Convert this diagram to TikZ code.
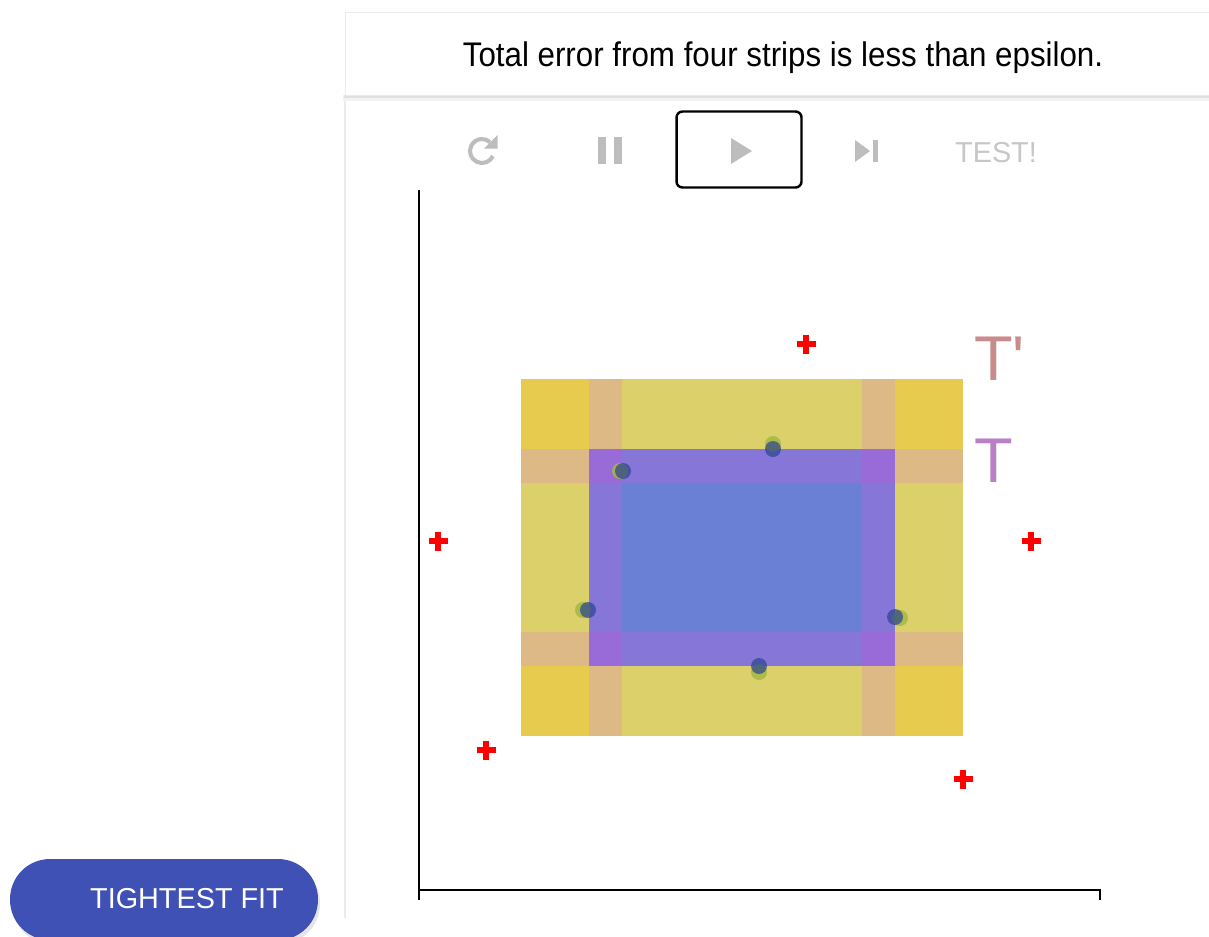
\documentclass[tikz,border=0pt]{standalone}
\usepackage{fontspec}
\setmainfont{Liberation Sans}
\newfontfamily\labelfont[Ligatures=TeXOff]{Liberation Sans}
\usetikzlibrary{
    arrows.meta,
    positioning
}
\definecolor{cornerYellow}{HTML}{E6CB4F}
\definecolor{bandYellow}{HTML}{DBD06A}
\definecolor{stripTan}{HTML}{DDB985}
\definecolor{innerPurple}{HTML}{8576D8}
\definecolor{coreBlue}{HTML}{6A80D4}
\definecolor{stripPurple}{HTML}{996BD8}
\definecolor{labelRose}{HTML}{C98C8C}
\definecolor{labelMauve}{HTML}{BA80C6}
\definecolor{iconGray}{HTML}{BDBDBD}
\definecolor{btnBlue}{HTML}{3F51B5}
\definecolor{dotNavy}{HTML}{2B4390}
\definecolor{dotGreen}{HTML}{A4B845}

\begin{document}
\begin{tikzpicture}[
  x=0.02cm, y=-0.02cm,
  icon/.style={fill=iconGray, draw=none},
  miss/.style={draw=red, line width=3.4pt},
  axis/.style={draw=black, line width=0.9pt},
  lbl/.style={anchor=base west, font=\labelfont\fontsize{36}{40}\selectfont}
]
\useasboundingbox (0,0) rectangle (1209,936);
\fill[white] (0,0) rectangle (1209,936);

%% --- card and message bar ---
\draw[black!8, line width=0.6pt] (345,95) -- (345,918);
\fill[black!5] (343,95) rectangle (1215,101);
\fill[black!12] (344,95) rectangle (1215,98);
\filldraw[fill=white, draw=black!8] (345,12) rectangle (1215,95);
\node[anchor=base, font=\fontsize{18}{20}\selectfont] (msg) at (783,67)
  {\scalebox{0.99}[1.08]{Total error from four strips is less than epsilon.}};

%% --- control buttons ---
\coordinate (reset) at (482,151);
\draw[iconGray, line width=2.3pt] (reset) ++(25:12) arc (25:312:12);
\fill[icon] (497.5,135) -- (497.5,148.5) -- (484,148.5) -- cycle;
\fill[icon] (598,137) rectangle (606,164);
\fill[icon] (614,137) rectangle (622,164);
\node[draw, line width=1.4pt, rounded corners=3.4pt,
      minimum width=2.5cm, minimum height=1.52cm] (play) at (739,149.5) {};
\fill[icon] (731,138) -- (731,164) -- (752,151) -- cycle;
\fill[icon] (855,140) -- (855,162) -- (870,151) -- cycle;
\fill[icon] (873,140) rectangle (878,162);
\node[anchor=base, text=iconGray!85, font=\fontsize{16.4}{18}\selectfont]
  (test) at (996,162) {TEST!};

%% --- axes ---
\draw[axis] (419,190) -- (419,900);
\draw[axis] (419,890) -- (1100,890) -- (1100,900);

%% --- outer rectangle T' with four strips ---
\fill[cornerYellow] (521,379) rectangle (963,736);
\fill[bandYellow] (589,379) rectangle (895,736);
\fill[bandYellow] (521,449) rectangle (963,666);
\fill[stripTan] (589,379) rectangle (622,736);
\fill[stripTan] (862,379) rectangle (895,736);
\fill[stripTan] (521,449) rectangle (963,483);
\fill[stripTan] (521,632) rectangle (963,666);

%% --- inner rectangle T ---
\fill[innerPurple] (589,449) rectangle (895,666);
\fill[coreBlue] (622,483) rectangle (862,632);
\foreach \xa/\xb in {589/622, 862/895}
  \foreach \ya/\yb in {449/483, 632/666}
    \fill[stripPurple] (\xa,\ya) rectangle (\xb,\yb);

%% --- labels ---
\node[lbl, text=labelRose] (Tp) at (968,380) {T'};
\node[lbl, text=labelMauve] (T) at (968,482) {T};

%% --- positive points ---
\foreach \n/\px/\py/\dx/\dy in {a/623/471/-3/0, b/773/449/0/-5,
    c/588/610/-5/0, d/895/617/5/1, e/759/666/0/6} {
  \coordinate (hit\n) at (\px,\py);
  \fill[dotGreen, opacity=0.85] (hit\n) ++(\dx,\dy) circle[radius=8];
  \fill[dotNavy, opacity=0.7] (hit\n) circle[radius=8];
}

%% --- negative points ---
\foreach \n/\px/\py in {a/806/344, b/438/541, c/1031/541,
    d/486/750, e/963/779} {
  \coordinate (miss\n) at (\px,\py);
  \draw[miss] (miss\n) +(-9.5,0) -- +(9.5,0)
              (miss\n) +(0,-9.5) -- +(0,9.5);
}

%% --- tightest fit button ---
\fill[black!10] (12,863) [rounded corners=0.8cm] rectangle (320,944);
\node[fill=btnBlue, rounded corners=0.8cm, minimum width=6.16cm,
      minimum height=1.62cm, inner sep=0pt] (fitbtn) at (164,899.5) {};
\node[anchor=base, text=white, font=\fontsize{16.4}{18}\selectfont]
  (fitlbl) at (187,908) {TIGHTEST FIT};

\end{tikzpicture}
\end{document}
